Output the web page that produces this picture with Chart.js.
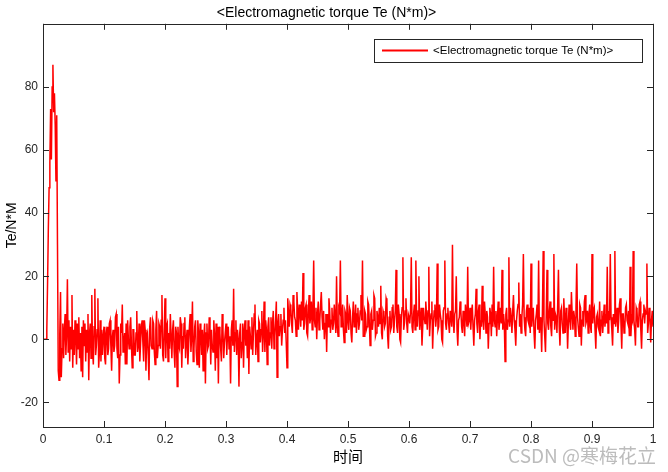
<!DOCTYPE html>
<html>
<head>
<meta charset="utf-8">
<script src="https://cdn.jsdelivr.net/npm/chart.js@4.4.0/dist/chart.umd.min.js"></script>
<style>
html, body { margin: 0; padding: 0; background: #fff; }
</style>
</head>
<body>
<canvas id="c" width="668" height="472"></canvas>
<script>
// Te trace, one value every dt seconds
var dt = 0.00125;
var torque = [
  // 0 - 0.1
  0, 0, 0, 0, 0, 3, 18, 35, 48, 56,
  73, 57, 80, 87, 72, 78, 68, 50, 71, 30,
  -10, -13, 2, 15, -12, -3, 5, -6, 3, 8,
  -5, 2, 19, -4, 6, -7, 4, -3, 14, -9,
  3, -5, 6, 1, -8, 5, -3, 7, -6, 2,
  -10, 4, -12, 6, -2, 5, -7, 3, -4, 8,
  -13, 2, 5, -6, 14, -3, -8, 4, 16, -5,
  -2, 3, 13, -9, -4, 6, -7, 3, -5, 1,
  4,
  // 0.1 - 0.2
  -6, -8, 2, 4, -5, -3, 5, 6, -2, -10,
  1, 3, -4, -2, 7, 8, -3, -6, 4, -14,
  -5, 5, 2, 11, -4, -1, 2, -8, 5, -8,
  6, 0, -3, 4, 7, -2, -9, 3, 3, -5,
  -5, 2, 9, -4, -2, 5, -7, -1, 4, 6,
  -1, -7, 6, 3, -10, 1, 2, -5, -13, 4,
  7, -2, -3, 6, 5, -4, -8, 3, 9, -6,
  -2, 5, 4, -3, 6, 14, -5, -7, 3, 13,
  // 0.2 - 0.3
  -6, 4, 5, -7, 2, -3, 8, 1, -6, 3,
  6, -4, -9, 4, 2, -15, 4, -2, -3, 7,
  5, -9, 1, -3, 5, 7, -6, 0, 3, -8,
  -2, 4, 8, -4, 1, 12, -7, -3, 4, 6,
  -4, -8, 6, 2, -9, 5, 2, -5, 3, -10,
  1, 5, -14, 2, 5, -3, -2, 7, 3, -8,
  3, -2, -4, 6, 1, -10, 5, -6, 4, -14,
  4, 2, -3, -7, 8, 3, -6, -1, 2, 5,
  // 0.3 - 0.4
  -5, 2, 4, -3, 1, -14, 3, 6, -2, 16,
  -4, 2, 6, -5, 3, 0, -15, 2, 5, -6,
  -1, 5, -9, 3, 6, -2, 3, -6, 6, -11,
  4, 1, -3, 7, -5, 2, 8, 11, -5, 0,
  3, -7, 6, 5, -1, 3, 9, -4, 2, 12,
  -4, 6, 3, -8, 4, 7, -2, 2, 7, -3,
  5, 9, -3, 1, 6, 12, -12, 5, 8, 1,
  4, 8, -2, 3, 6, 10, 2, 6, -1, -9,
  // 0.4 - 0.5
  13, 8, 4, 11, 10, 5, 2, 14, 12, 7,
  6, 1, 15, 9, 3, 11, 9, 4, 12, 6,
  21, 3, 5, 10, 11, 2, 1, 8, 14, 5,
  7, 12, 3, 9, 25, 6, 4, 10, 0, 8,
  12, 3, 6, 11, 15, 7, 3, 9, 0, 5,
  8, -4, 8, 4, 13, 9, 2, 6, 10, 3,
  5, 11, 7, 2, 20, 4, 1, 10, 9, 25,
  4, 7, 11, 3, -1, 9, 8, 2, 14, 6,
  // 0.5 - 0.6
  3, 10, 9, 2, -1, 7, 12, 4, 6, 11,
  2, 8, 10, 3, 5, 9, 14, 6, 25, 1,
  1, 9, 8, 3, 4, 12, 11, 5, -2, 8,
  9, 3, 6, 14, 13, 1, 2, 9, 7, 4,
  10, 5, 17, 2, 0, 9, 8, 4, 5, 13,
  12, 1, -3, 7, 9, 3, 4, 10, 11, 2,
  6, 9, 22, 4, 2, 11, 8, 0, -1, 7,
  10, 26, 3, 5, 9, 13, 5, 2, 8, 7,
  // 0.6 - 0.7
  5, 9, 26, 4, 2, 8, 11, 3, 25, 6,
  4, 9, 20, 3, 6, 10, -2, 4, 10, 7,
  5, 12, 8, 3, 9, 23, 1, 6, 8, 12,
  -3, 5, 9, 11, 4, 7, 24, 3, 4, 11,
  8, 6, 0, -1, 9, 10, 25, 5, 3, 8,
  10, 5, 2, 9, 7, 4, 30, 6, 2, 8,
  9, 20, 3, -2, 6, 7, 12, 9, 4, 2,
  9, 6, 1, 11, 8, 4, 23, 5, 6, 10,
  // 0.7 - 0.8
  3, 8, 11, 4, -2, 6, 8, 16, 5, 2,
  9, 11, 0, 6, 4, 17, 6, 3, 12, 8,
  2, 9, 7, -3, 5, 10, 8, 1, 11, 4,
  23, 6, 4, 9, 1, 7, 12, 3, 6, 10,
  5, 22, 3, 8, 5, -7, 8, 10, 3, 6,
  26, 4, 10, 7, 2, 9, 14, 6, 3, -2,
  6, 9, 11, 18, 4, 8, 2, 7, 11, 27,
  7, 3, 1, 9, 11, 6, 5, 10, 2, 24,
  // 0.8 - 0.9
  4, 8, 10, 2, -3, 6, 8, 11, 3, 25,
  2, 7, 5, -4, 9, 28, 6, 1, -4, 8,
  22, 5, 3, 9, 12, 4, 1, 10, 6, 27,
  3, 8, 7, 2, 11, 22, 4, -2, 9, 10,
  5, 2, 13, 7, 2, 10, 8, -3, 5, 11,
  6, 3, 15, 8, 3, 9, 7, 1, 10, 24,
  7, 4, 1, 11, 10, -2, 6, 9, 4, 12,
  14, 5, 6, 9, 2, 8, 11, 4, 2, 27,
  // 0.9 - 1
  5, 9, 10, 3, -3, 7, 8, 4, 3, 12,
  1, 6, 9, 2, 6, 11, 4, 8, 5, 23,
  2, 9, 6, 27, 7, 3, -2, 8, 5, 28,
  4, 7, 10, 2, 6, 11, 13, 5, -3, 8,
  8, 2, 3, 10, 11, 6, 5, 9, 1, 23,
  1, 7, 6, 28, 6, 3, -2, 10, 9, 4,
  4, 11, 12, 3, -3, 6, 8, 11, 5, 9,
  8, 24, 2, 5, 10, 7, -1, 6, 9, 4
];
var xTicks = [0, 0.1, 0.2, 0.3, 0.4, 0.5, 0.6, 0.7, 0.8, 0.9, 1];
var yTicks = [-20, 0, 20, 40, 60, 80];
var seriesName = '<Electromagnetic torque Te (N*m)>';

var fontFam = "'Liberation Sans', Arial, Helvetica, sans-serif";
var axisColor = '#262626';

var points = [];
for (var i = 0; i < torque.length; i++) {
  points.push({ x: i * dt, y: torque[i] });
}

// MATLAB style box, inward ticks, legend and watermark
var matlabBox = {
  id: 'matlabBox',
  afterDraw: function (chart) {
    var ctx = chart.ctx;
    var a = chart.chartArea;
    var xs = chart.scales.x, ys = chart.scales.y;
    var tl = 6;
    ctx.save();
    ctx.strokeStyle = axisColor;
    ctx.lineWidth = 1;
    ctx.strokeRect(Math.round(a.left) + 0.5, Math.round(a.top) + 0.5,
      Math.round(a.right - a.left), Math.round(a.bottom - a.top));
    ctx.beginPath();
    xTicks.forEach(function (v) {
      var px = Math.round(xs.getPixelForValue(v)) + 0.5;
      ctx.moveTo(px, a.bottom); ctx.lineTo(px, a.bottom - tl);
      ctx.moveTo(px, a.top); ctx.lineTo(px, a.top + tl);
    });
    yTicks.forEach(function (v) {
      var py = Math.round(ys.getPixelForValue(v)) + 0.5;
      ctx.moveTo(a.left, py); ctx.lineTo(a.left + tl, py);
      ctx.moveTo(a.right, py); ctx.lineTo(a.right - tl, py);
    });
    ctx.stroke();

    // legend
    var lx = 374, ly = 39, lw = 268, lh = 23;
    ctx.fillStyle = '#fff';
    ctx.fillRect(lx, ly, lw, lh);
    ctx.strokeStyle = axisColor;
    ctx.strokeRect(lx + 0.5, ly + 0.5, lw, lh);
    ctx.strokeStyle = '#ff0000';
    ctx.lineWidth = 2;
    ctx.beginPath();
    ctx.moveTo(lx + 8, ly + 11.5); ctx.lineTo(lx + 54, ly + 11.5);
    ctx.stroke();
    ctx.fillStyle = '#000';
    ctx.font = '11.5px ' + fontFam;
    ctx.textBaseline = 'middle';
    ctx.textAlign = 'left';
    ctx.fillText(seriesName, lx + 59, ly + 12);

    // watermark
    ctx.fillStyle = '#bcbcbc';
    ctx.font = "19px 'Noto Sans CJK SC', sans-serif";
    ctx.textAlign = 'right';
    ctx.fillText('CSDN @寒梅花立', 656, 456);
    ctx.restore();
  }
};

new Chart(document.getElementById('c'), {
  type: 'line',
  data: {
    datasets: [{
      label: seriesName,
      data: points,
      borderColor: '#ff0000',
      borderWidth: 1.5,
      pointRadius: 0,
      tension: 0,
      fill: false
    }]
  },
  options: {
    responsive: false,
    devicePixelRatio: 1,
    animation: false,
    layout: { padding: { left: 0, right: 15, top: 0, bottom: 0 } },
    plugins: {
      legend: { display: false },
      tooltip: { enabled: false },
      title: {
        display: true,
        text: seriesName,
        color: '#000',
        font: { family: fontFam, size: 14, weight: 'normal' },
        padding: { top: 5, bottom: 2 }
      }
    },
    scales: {
      x: {
        type: 'linear',
        min: 0,
        max: 1,
        grid: { display: false, drawTicks: false },
        border: { display: false },
        afterBuildTicks: function (s) {
          s.ticks = xTicks.map(function (v) { return { value: v }; });
        },
        afterFit: function (s) { s.height = 45; },
        ticks: {
          color: axisColor,
          padding: 5,
          maxRotation: 0,
          font: { family: fontFam, size: 12 },
          callback: function (v) { return String(Number(v.toFixed(1))); }
        },
        title: {
          display: true,
          text: '时间',
          color: '#000',
          font: { family: "'Noto Sans CJK SC', sans-serif", size: 15 },
          padding: { top: 0, bottom: 7 }
        }
      },
      y: {
        min: -27.8,
        max: 100,
        grid: { display: false, drawTicks: false },
        border: { display: false },
        afterBuildTicks: function (s) {
          s.ticks = yTicks.map(function (v) { return { value: v }; });
        },
        afterFit: function (s) { s.width = 43; },
        ticks: {
          color: axisColor,
          padding: 5,
          font: { family: fontFam, size: 12 }
        },
        title: {
          display: true,
          text: 'Te/N*M',
          color: '#000',
          font: { family: fontFam, size: 14 },
          padding: { top: 4, bottom: 0 }
        }
      }
    }
  },
  plugins: [matlabBox]
});
</script>
</body>
</html>
